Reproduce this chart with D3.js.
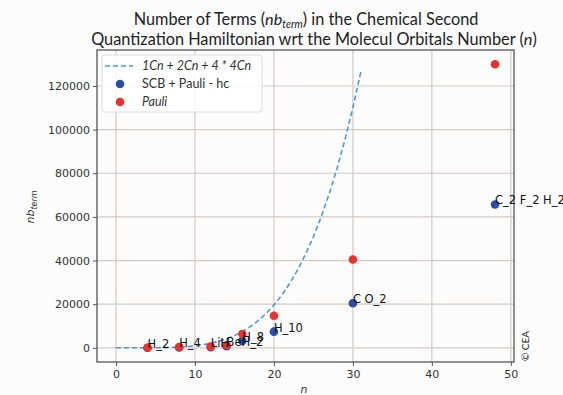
<!DOCTYPE html>
<html>
<head>
<meta charset="utf-8">
<script src="https://cdn.jsdelivr.net/npm/d3@7"></script>
<style>
  html, body { margin: 0; padding: 0; background: #fcfcfc; }
  svg { display: block; }
</style>
</head>
<body>
<svg id="chart" width="563" height="395"></svg>
<script>
// ═══════════════════════════════════════════
//  Hamiltonian term count vs molecular orbitals
// ═══════════════════════════════════════════

// ── Data ──────────────────────────────────
// dashed reference curve: 1Cn + 2Cn + 4*4Cn, n = 0..31
const curveN    = [0, 1, 2, 3, 4, 5, 6, 7, 8, 9, 10, 11, 12, 13, 14, 15,
                   16, 17, 18, 19, 20, 21, 22, 23, 24, 25, 26, 27, 28, 29, 30, 31];
const curveVals = [0, 1, 3, 6, 14, 35, 81, 168, 316, 549, 895, 1386, 2058, 2951, 4109, 5580,
                   7416, 9673, 12411, 15694, 19590, 24171, 29513, 35696, 42804, 50925,
                   60151, 70578, 82306, 95439, 110085, 126356];

const molecules  = ['H_2', 'H_4', 'LiH', 'BeH_2', 'H_8', 'H_10', 'C O_2', 'C_2 F_2 H_2'];
const orbitals   = [4, 8, 12, 14, 16, 20, 30, 48];
const scbTerms   = [10, 150, 300, 700, 3200, 7400, 20400, 65700];
const pauliTerms = [15, 400, 600, 1200, 6300, 14700, 40500, 130000];

const xTicks = [0, 10, 20, 30, 40, 50];
const yTicks = [0, 20000, 40000, 60000, 80000, 100000, 120000];

// ── Layout ────────────────────────────────
const M = { left: 97, right: 514, top: 50, bottom: 362 };
const COL_CURVE = '#4a9ad4';
const COL_SCB   = '#2c4fa3';
const COL_PAULI = '#e8322c';
const COL_GRID  = '#d6cac4';
const TICK_FONT  = '"DejaVu Sans", sans-serif';
const TITLE_FONT = 'Lato, "Open Sans", sans-serif';

const svg = d3.select('#chart');

const x = d3.scaleLinear().domain([-2.4, 50.4]).range([M.left, M.right]);
const y = d3.scaleLinear().domain([-6500, 136500]).range([M.bottom, M.top]);

// ── Grid ──────────────────────────────────
const gGrid = svg.append('g');
gGrid.selectAll('line.gx').data(xTicks).join('line')
  .attr('x1', d => x(d)).attr('x2', d => x(d))
  .attr('y1', M.top).attr('y2', M.bottom)
  .attr('stroke', COL_GRID).attr('stroke-width', 1.2);
gGrid.selectAll('line.gy').data(yTicks).join('line')
  .attr('x1', M.left).attr('x2', M.right)
  .attr('y1', d => y(d)).attr('y2', d => y(d))
  .attr('stroke', COL_GRID).attr('stroke-width', 1.2);

// ── Axes ──────────────────────────────────
const xAxis = svg.append('g')
  .attr('transform', `translate(0,${M.bottom})`)
  .call(d3.axisBottom(x).tickValues(xTicks).tickSize(4).tickPadding(4));
const yAxis = svg.append('g')
  .attr('transform', `translate(${M.left},0)`)
  .call(d3.axisLeft(y).tickValues(yTicks).tickSize(4).tickPadding(3).tickFormat(d3.format('d')));
[xAxis, yAxis].forEach(a => {
  a.select('.domain').remove();
  a.selectAll('line').attr('stroke', '#555');
  a.selectAll('text').attr('fill', '#333')
    .style('font-family', TICK_FONT).style('font-size', '11px');
});

// frame
svg.append('rect')
  .attr('x', M.left).attr('y', M.top)
  .attr('width', M.right - M.left).attr('height', M.bottom - M.top)
  .attr('fill', 'none').attr('stroke', '#555').attr('stroke-width', 1.3);

// ── Curve ─────────────────────────────────
const line = d3.line().x((d, i) => x(curveN[i])).y(d => y(d));
svg.append('path')
  .datum(curveVals)
  .attr('d', line)
  .attr('fill', 'none')
  .attr('stroke', COL_CURVE)
  .attr('stroke-width', 1.6)
  .attr('stroke-dasharray', '5,3');

// ── Points ────────────────────────────────
svg.append('g').selectAll('circle').data(orbitals).join('circle')
  .attr('cx', d => x(d))
  .attr('cy', (d, i) => y(scbTerms[i]))
  .attr('r', 4.3)
  .attr('fill', COL_SCB);
svg.append('g').selectAll('circle').data(orbitals).join('circle')
  .attr('cx', d => x(d))
  .attr('cy', (d, i) => y(pauliTerms[i]))
  .attr('r', 4.3)
  .attr('fill', COL_PAULI);

// molecule labels, anchored at SCB point
svg.append('g').selectAll('text').data(molecules).join('text')
  .attr('x', (d, i) => x(orbitals[i]))
  .attr('y', (d, i) => y(scbTerms[i]))
  .attr('fill', '#111')
  .style('font-family', TICK_FONT)
  .style('font-size', '11.5px')
  .text(d => d);

// ── Legend ────────────────────────────────
const leg = svg.append('g');
leg.append('rect')
  .attr('x', 102).attr('y', 55).attr('width', 160).attr('height', 57)
  .attr('rx', 3)
  .attr('fill', 'rgba(255,255,255,0.85)')
  .attr('stroke', '#ddd');
const legItems = [
  { label: '1Cn + 2Cn + 4 * 4Cn', kind: 'line', italic: true },
  { label: 'SCB + Pauli - hc', kind: 'dot', color: COL_SCB },
  { label: 'Pauli', kind: 'dot', color: COL_PAULI, italic: true }
];
legItems.forEach((it, i) => {
  const ly = 66 + i * 18;
  if (it.kind === 'line') {
    leg.append('line')
      .attr('x1', 105).attr('x2', 133).attr('y1', ly).attr('y2', ly)
      .attr('stroke', COL_CURVE).attr('stroke-width', 1.6)
      .attr('stroke-dasharray', '5,3');
  } else {
    leg.append('circle').attr('cx', 120).attr('cy', ly).attr('r', 4.3).attr('fill', it.color);
  }
  leg.append('text')
    .attr('x', 142).attr('y', ly + 4)
    .attr('fill', '#333')
    .style('font-family', TITLE_FONT)
    .style('font-size', '12.5px')
    .style('font-style', it.italic ? 'italic' : 'normal')
    .text(it.label);
});

// ── Titles ────────────────────────────────
const t1 = svg.append('text')
  .attr('x', 306).attr('y', 25).attr('text-anchor', 'middle')
  .attr('fill', '#222')
  .style('font-family', TITLE_FONT).style('font-size', '16.3px');
t1.append('tspan').text('Number of Terms (');
t1.append('tspan').style('font-style', 'italic').text('nb');
t1.append('tspan').attr('dy', 3).style('font-size', '10.5px').style('font-style', 'italic').text('term');
t1.append('tspan').attr('dy', -3).text(') in the Chemical Second');

const t2 = svg.append('text')
  .attr('x', 314).attr('y', 45).attr('text-anchor', 'middle')
  .attr('fill', '#222')
  .style('font-family', TITLE_FONT).style('font-size', '16.3px');
t2.append('tspan').text('Quantization Hamiltonian wrt the Molecul Orbitals Number (');
t2.append('tspan').style('font-style', 'italic').text('n');
t2.append('tspan').text(')');

// axis labels
svg.append('text')
  .attr('x', 304).attr('y', 393).attr('text-anchor', 'middle')
  .attr('fill', '#333')
  .style('font-family', TICK_FONT).style('font-size', '11px').style('font-style', 'italic')
  .text('n');

const yl = svg.append('text')
  .attr('transform', 'translate(34,207) rotate(-90)')
  .attr('text-anchor', 'middle')
  .attr('fill', '#333')
  .style('font-family', TICK_FONT).style('font-size', '11px');
yl.append('tspan').style('font-style', 'italic').text('nb');
yl.append('tspan').attr('dy', 3).style('font-size', '8px').style('font-style', 'italic').text('term');

// credit
svg.append('text')
  .attr('transform', 'translate(529,346) rotate(-90)')
  .attr('text-anchor', 'middle')
  .attr('fill', '#222')
  .style('font-family', TITLE_FONT).style('font-size', '10px')
  .text('© CEA');
</script>
</body>
</html>
